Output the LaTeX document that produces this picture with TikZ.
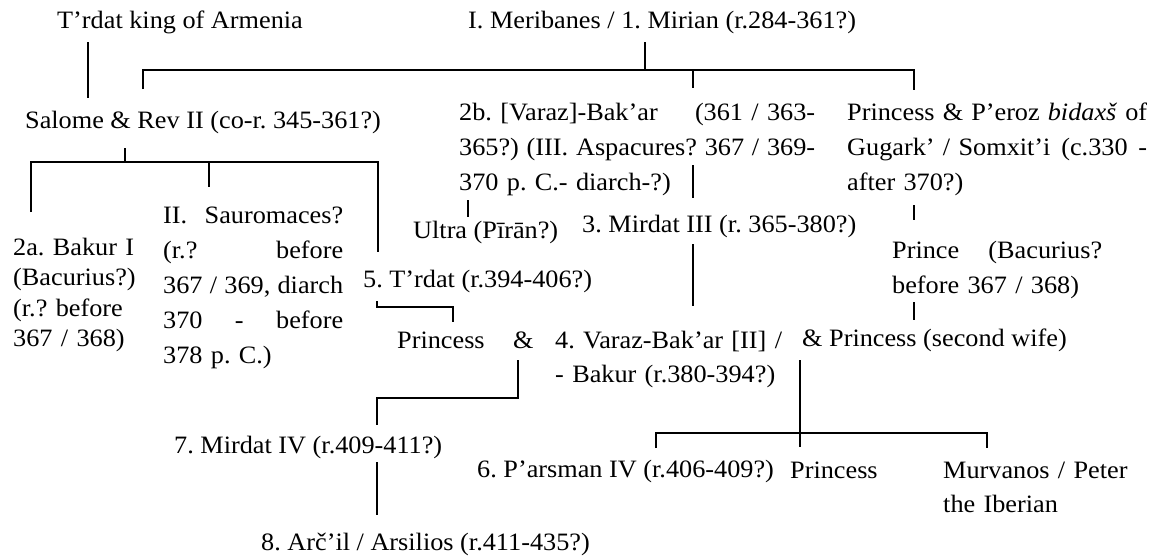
\documentclass[tikz,border=0pt]{standalone}
\usepackage{fontspec}
\setmainfont{Liberation Serif}[FakeStretch=1.05]
\frenchspacing
\newcommand\jline[2]{\leavevmode\hbox to #1{\spaceskip=\fontdimen2\font plus 1fil\relax #2}}
\begin{document}
\begin{tikzpicture}[x=1pt,y=-1pt,
  lbl/.style={anchor=base west, inner sep=0pt, align=left, font=\fontsize{25}{35}\selectfont},
  tight/.style={font=\fontsize{25}{30.5}\selectfont},
  mid/.style={font=\fontsize{25}{34}\selectfont},
  ln/.style={line width=1.7pt}]
\useasboundingbox (0,0) rectangle (1157,555);
\fill[white] (0,0) rectangle (1157,555);
% texts
\node[lbl] (trdat) at (57,28) {T’rdat king of Armenia};
\node[lbl] (merib) at (468,28) {I. Meribanes / 1. Mirian (r.284-361?)};
\node[lbl] (salome) at (25,128) {Salome \& Rev II (co-r. 345-361?)};
\node[lbl,text width=356pt] (vb2b) at (459,120) {\leavevmode\hbox to 356pt{2b. [Varaz]-Bak’ar\hfill(361 / 363-}\\\jline{356pt}{365?) (III. Aspacures? 367 / 369-}\\370 p. C.- diarch-?)};
\node[lbl,text width=300pt] (peroz) at (847,120) {\jline{300pt}{Princess \& P’eroz \textit{bidaxš} of}\\\leavevmode\hbox to 300pt{Gugark’ / Somxit’i\hfill(c.330\hfill-}\\after 370?)};
\node[lbl,tight,text width=140pt] (bakur2a) at (13,255) {2a. Bakur I\\(Bacurius?)\\(r.? before\\367 / 368)};
\node[lbl,text width=180pt] (sauro) at (163,223) {\jline{180pt}{II. Sauromaces?}\\\jline{180pt}{(r.? before}\\\jline{180pt}{367 / 369, diarch}\\\jline{180pt}{370 - before}\\378 p. C.)};
\node[lbl] (ultra) at (413,238) {Ultra (Pīrān?)};
\node[lbl] (mirdat3) at (582,232) {3. Mirdat III (r. 365-380?)};
\node[lbl,text width=210pt] (prince) at (892,258) {\jline{210pt}{Prince (Bacurius?}\\before 367 / 368)};
\node[lbl] (trdat5) at (363,287) {5. T’rdat (r.394-406?)};
\node[lbl] (princessA) at (397,348) {Princess};
\node[lbl] (amp) at (513,348) {\&};
\node[lbl,mid,text width=240pt] (varaz4) at (555,348) {4. Varaz-Bak’ar [II] /\\- Bakur (r.380-394?)};
\node[lbl] (princessB) at (802,346) {\& Princess (second wife)};
\node[lbl] (mirdat4) at (174,453) {7. Mirdat IV (r.409-411?)};
\node[lbl] (parsman) at (477,477) {6. P’arsman IV (r.406-409?)};
\node[lbl] (princessC) at (790,478) {Princess};
\node[lbl,mid,text width=200pt] (murvanos) at (943,478) {Murvanos / Peter\\the Iberian};
\node[lbl] (arcil) at (261,550) {8. Arč’il / Arsilios (r.411-435?)};
% connector points
\coordinate (tr1) at (88,42); \coordinate (tr2) at (88,98);
\coordinate (mr1) at (645,42); \coordinate (mr2) at (645,70);
\coordinate (b1) at (143,89); \coordinate (b2) at (143,70);
\coordinate (b3) at (914,70); \coordinate (b4) at (914,90);
\coordinate (b5) at (693,70); \coordinate (b6) at (693,88);
\coordinate (m1) at (693,165); \coordinate (m2) at (693,198);
\coordinate (s1) at (125,148); \coordinate (s2) at (125,162);
\coordinate (sb1) at (31,212); \coordinate (sb2) at (31,162);
\coordinate (sb3) at (378,162); \coordinate (sb4) at (378,252);
\coordinate (sm1) at (209,162); \coordinate (sm2) at (209,187);
\coordinate (u1) at (468,200); \coordinate (u2) at (468,217);
\coordinate (md1) at (693,244); \coordinate (md2) at (693,306);
\coordinate (t1) at (377,301); \coordinate (t2) at (377,307);
\coordinate (t3) at (453,307); \coordinate (t4) at (453,322);
\coordinate (a1) at (518,360); \coordinate (a2) at (518,398);
\coordinate (a3) at (377,398); \coordinate (a4) at (377,425);
\coordinate (d1) at (377,462); \coordinate (d2) at (377,515);
\coordinate (p1) at (914,205); \coordinate (p2) at (914,220);
\coordinate (p3) at (914,302); \coordinate (p4) at (914,320);
\coordinate (v1) at (800,360); \coordinate (v2) at (800,447);
\coordinate (c1) at (656,448); \coordinate (c2) at (656,433);
\coordinate (c3) at (987,433); \coordinate (c4) at (987,448);
% connectors
\draw[ln] (tr1) -- (tr2);
\draw[ln] (mr1) -- (mr2);
\draw[ln] (b1) -- (b2) -- (b3) -- (b4);
\draw[ln] (b5) -- (b6);
\draw[ln] (m1) -- (m2);
\draw[ln] (s1) -- (s2);
\draw[ln] (sb1) -- (sb2) -- (sb3) -- (sb4);
\draw[ln] (sm1) -- (sm2);
\draw[ln] (u1) -- (u2);
\draw[ln] (md1) -- (md2);
\draw[ln] (t1) -- (t2) -- (t3) -- (t4);
\draw[ln] (a1) -- (a2) -- (a3) -- (a4);
\draw[ln] (d1) -- (d2);
\draw[ln] (p1) -- (p2);
\draw[ln] (p3) -- (p4);
\draw[ln] (v1) -- (v2);
\draw[ln] (c1) -- (c2) -- (c3) -- (c4);
\end{tikzpicture}
\end{document}
